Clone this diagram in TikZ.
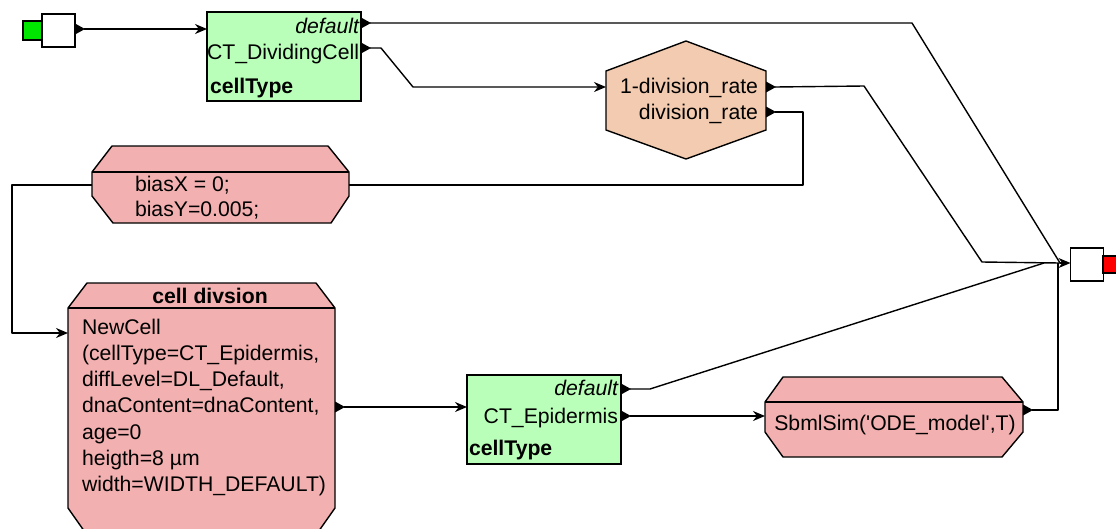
\documentclass[tikz,border=0pt]{standalone}
\usepackage{fontspec}
\setmainfont{Liberation Sans}
\usetikzlibrary{arrows.meta}
\definecolor{typegreen}{RGB}{185,255,185}
\definecolor{procpink}{RGB}{242,176,176}
\definecolor{funcpeach}{RGB}{243,203,176}
\definecolor{srcgreen}{RGB}{0,230,0}
\definecolor{sinkred}{RGB}{255,0,0}
\begin{document}
\begin{tikzpicture}[x=1pt,y=-1pt,
  every node/.style={inner sep=0pt,outer sep=0pt,font=\fontsize{21.2}{26.3}\selectfont},
  itxt/.style={font=\fontsize{21.2}{26.3}\selectfont\itshape},
  btxt/.style={font=\fontsize{21.2}{26.3}\selectfont\bfseries},
  outline/.style={draw=black,line width=1.4pt},
  wire/.style={draw=black,line width=1.4pt,line join=round},
  flow/.style={wire,-{Stealth[length=12pt,width=10pt]}},
  port/.pic={\fill (0,-5.5) -- (10,0) -- (0,5.5) -- cycle;},
  lbl/.style={anchor=base west},
  rlbl/.style={anchor=base east}]
\clip (0,0) rectangle (1116,528);

% ---------- source terminal ----------
\draw[outline,fill=srcgreen] (23,21) rectangle (42,40);
\node[outline,fill=white,minimum size=33pt] (src) at (58.5,30.5) {};
\pic at (75,29) {port};
\coordinate (srcOut) at (84,29);

% ---------- cell type CT_DividingCell ----------
\node[outline,fill=typegreen,minimum width=154pt,minimum height=89pt] (dc) at (284,56.5) {};
\node[rlbl,itxt] (dcDef) at (359,33) {default};
\node[rlbl] (dcName) at (359,59) {CT\_DividingCell};
\node[lbl,btxt] (dcType) at (210,93) {cellType};
\pic at (361,23) {port};
\pic at (361,48) {port};
\coordinate (dcOutDef) at (370,23);
\coordinate (dcOutName) at (370,48);

% ---------- division rate function ----------
\draw[outline,fill=funcpeach] (686,41) -- (766,71) -- (766,130) -- (686,159)
  -- (606,130) -- (606,71) -- cycle;
\coordinate (rateIn) at (606,87);
\node[rlbl] (rateA) at (758,93) {1-division\_rate};
\node[rlbl] (rateB) at (758,119) {division\_rate};
\pic at (766,87) {port};
\pic at (766,112) {port};
\coordinate (rateOutA) at (775,87);
\coordinate (rateOutB) at (775,112);

% ---------- bias process ----------
\draw[outline,fill=procpink] (112,146) -- (328,146) -- (349,172) -- (349,196)
  -- (331,223) -- (113,223) -- (92,196) -- (92,172) -- cycle;
\draw[outline] (92,172) -- (349,172);
\coordinate (biasL) at (92,185);
\coordinate (biasR) at (349,185);
\node[lbl] (biasX) at (135,191) {biasX = 0;};
\node[lbl] (biasY) at (135,216) {biasY=0.005;};

% ---------- cell division process ----------
\draw[outline,fill=procpink] (87,283) -- (316,283) -- (335,308) -- (335,508)
  -- (316,535) -- (87,535) -- (68,508) -- (68,308) -- cycle;
\draw[outline] (68,308) -- (335,308);
\coordinate (divIn) at (68,333);
\node[anchor=base,btxt] (divTitle) at (210,303) {cell divsion};
\foreach \t [count=\i from 0] in {{NewCell},
    {(cellType=CT\_Epidermis,},
    {diffLevel=DL\_Default,},
    {dnaContent=dnaContent,},
    {age=0},
    {heigth=8 µm},
    {width=WIDTH\_DEFAULT)}}
  \node[lbl] (divLine\i) at (82,334+26.3*\i) {\t};
\pic at (335,407) {port};
\coordinate (divOut) at (344,407);

% ---------- cell type CT_Epidermis ----------
\node[outline,fill=typegreen,minimum width=154pt,minimum height=89pt] (epi) at (544,419.5) {};
\node[rlbl,itxt] (epiDef) at (618,395) {default};
\node[rlbl] (epiName) at (618,423) {CT\_Epidermis};
\node[lbl,btxt] (epiType) at (469,455) {cellType};
\pic at (621,389) {port};
\pic at (621,416) {port};
\coordinate (epiOutDef) at (630,389);
\coordinate (epiOutName) at (630,416);

% ---------- SBML simulation process ----------
\draw[outline,fill=procpink] (783,377) -- (1002,377) -- (1023,402) -- (1023,432)
  -- (1002,457) -- (783,457) -- (765,432) -- (765,402) -- cycle;
\draw[outline] (765,402) -- (1023,402);
\coordinate (sbmlIn) at (765,416);
\node[anchor=base] (sbml) at (895,430)
  {SbmlSim(\textquotesingle ODE\_model\textquotesingle,T)};
\pic at (1023,410) {port};
\coordinate (sbmlOut) at (1032,410);

% ---------- sink terminal ----------
\node[outline,fill=white,minimum size=33pt] (sink) at (1087,264.5) {};
\draw[outline,fill=sinkred] (1103,256) rectangle (1125,273);
\coordinate (join) at (1060,263);

% ---------- connectors ----------
\draw[flow] (srcOut) -- (srcOut -| dc.west);
\draw[wire] (dcOutDef) -- (912,23) -- (join);
\draw[flow] (dcOutName) -- (381,48) -- (413,87) -- (rateIn);
\draw[wire] (rateOutA) -- (864,86) -- (982,262) -- (join);
\draw[wire] (rateOutB) -- (803,112) -- (803,185) -- (biasR);
\draw[flow] (biasL) -- (12,185) -- (12,333) -- (divIn);
\draw[flow] (divOut) -- (divOut -| epi.west);
\draw[wire] (epiOutDef) -- (650,389) -- (1044,263);
\draw[flow] (epiOutName) -- (sbmlIn);
\draw[wire] (sbmlOut) -- (1058,410) -- (1058,263);
\draw[flow] (join) -- (sink.west |- join);
\end{tikzpicture}
\end{document}
